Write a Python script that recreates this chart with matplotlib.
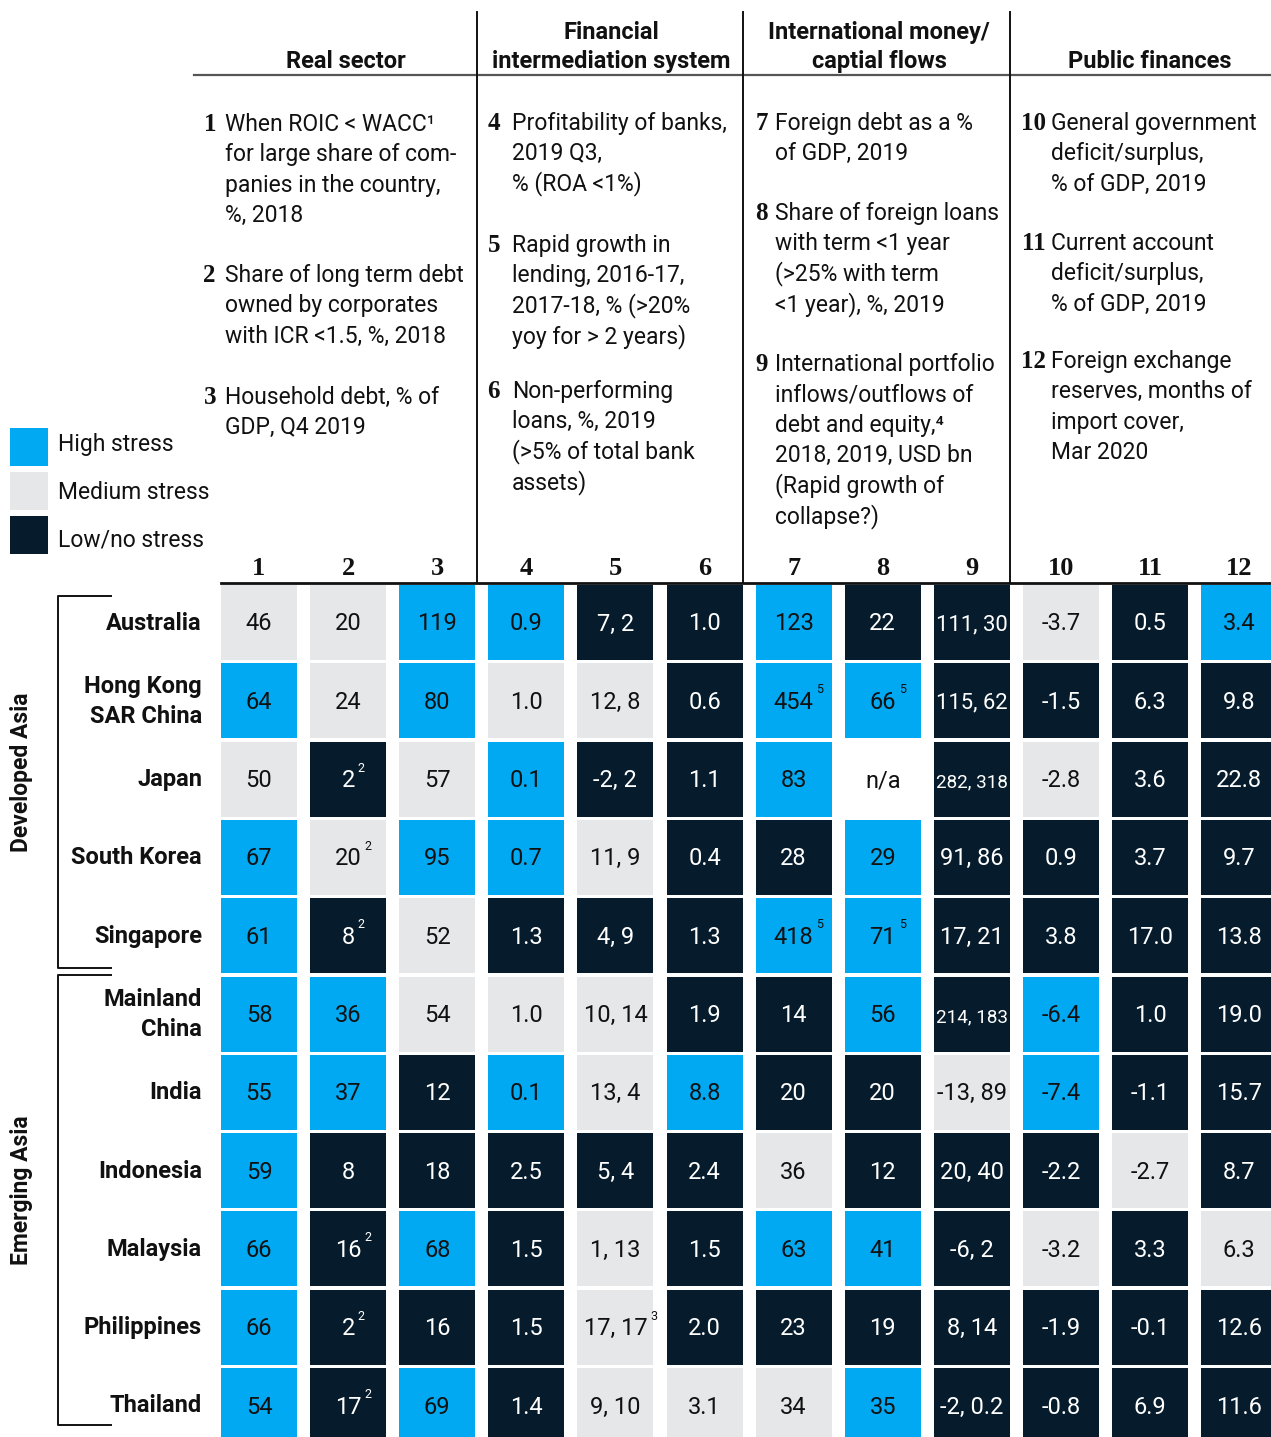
import matplotlib
matplotlib.use("Agg")
import matplotlib.pyplot as plt
from matplotlib.patches import Rectangle

# данные таблицы
countries = ["Australia", "Hong Kong\nSAR China", "Japan", "South Korea", "Singapore",
             "Mainland\nChina", "India", "Indonesia", "Malaysia", "Philippines", "Thailand"]
groups = ["Developed Asia", "Emerging Asia"]

values = [
    ["46", "20", "119", "0.9", "7, 2", "1.0", "123", "22", "111, 30", "-3.7", "0.5", "3.4"],
    ["64", "24", "80", "1.0", "12, 8", "0.6", "454", "66", "115, 62", "-1.5", "6.3", "9.8"],
    ["50", "2", "57", "0.1", "-2, 2", "1.1", "83", "n/a", "282, 318", "-2.8", "3.6", "22.8"],
    ["67", "20", "95", "0.7", "11, 9", "0.4", "28", "29", "91, 86", "0.9", "3.7", "9.7"],
    ["61", "8", "52", "1.3", "4, 9", "1.3", "418", "71", "17, 21", "3.8", "17.0", "13.8"],
    ["58", "36", "54", "1.0", "10, 14", "1.9", "14", "56", "214, 183", "-6.4", "1.0", "19.0"],
    ["55", "37", "12", "0.1", "13, 4", "8.8", "20", "20", "-13, 89", "-7.4", "-1.1", "15.7"],
    ["59", "8", "18", "2.5", "5, 4", "2.4", "36", "12", "20, 40", "-2.2", "-2.7", "8.7"],
    ["66", "16", "68", "1.5", "1, 13", "1.5", "63", "41", "-6, 2", "-3.2", "3.3", "6.3"],
    ["66", "2", "16", "1.5", "17, 17", "2.0", "23", "19", "8, 14", "-1.9", "-0.1", "12.6"],
    ["54", "17", "69", "1.4", "9, 10", "3.1", "34", "35", "-2, 0.2", "-0.8", "6.9", "11.6"],
]

# H - high, M - medium, L - low/no stress, N - нет данных
stress = [
    "MMHHLLHLLMLH",
    "HMHMMLHHLLLL",
    "MLMHLLHNLMLL",
    "HMHHMLLHLLLL",
    "HLMLLLHHLLLL",
    "HHMMMLLHLHLL",
    "HHLHMHLLMHLL",
    "HLLLLLMLLLML",
    "HLHLMLHHLMLM",
    "HLLLMLLLLLLL",
    "HLHLMMMHLLLL",
]

# сноски (строка, столбец) -> номер
notes = {(1, 6): "5", (1, 7): "5", (4, 6): "5", (4, 7): "5",
         (2, 1): "2", (3, 1): "2", (4, 1): "2", (8, 1): "2", (9, 1): "2", (10, 1): "2",
         (9, 4): "3"}

sections = [["Real sector"],
            ["Financial", "intermediation system"],
            ["International money/", "captial flows"],
            ["Public finances"]]

indicators = {
    1: ["When ROIC < WACC\u00b9", "for large share of com-", "panies in the country,", "%, 2018"],
    2: ["Share of long term debt", "owned by corporates", "with ICR <1.5, %, 2018"],
    3: ["Household debt, % of", "GDP, Q4 2019"],
    4: ["Profitability of banks,", "2019 Q3,", "% (ROA <1%)"],
    5: ["Rapid growth in", "lending, 2016-17,", "2017-18, % (>20%", "yoy for > 2 years)"],
    6: ["Non-performing", "loans, %, 2019", "(>5% of total bank", "assets)"],
    7: ["Foreign debt as a %", "of GDP, 2019"],
    8: ["Share of foreign loans", "with term <1 year", "(>25% with term", "<1 year), %, 2019"],
    9: ["International portfolio", "inflows/outflows of", "debt and equity,\u2074",
        "2018, 2019, USD bn", "(Rapid growth of", "collapse?)"],
    10: ["General government", "deficit/surplus,", "% of GDP, 2019"],
    11: ["Current account", "deficit/surplus,", "% of GDP, 2019"],
    12: ["Foreign exchange", "reserves, months of", "import cover,", "Mar 2020"],
}

legend_items = [("H", "High stress"), ("M", "Medium stress"), ("L", "Low/no stress")]

colors = {"H": "#00A9F2", "M": "#E6E7E9", "L": "#061C2C", "N": "white"}
dark_text = "#111111"

# разметка в пикселях
W, H = 1271, 1437
X0, DX, CW = 221, 89.1, 76
Y0, DY, CH = 585, 78.3, 75
dividers = [477, 743, 1010]
section_x = [346, 611, 879, 1150]
block_num_x = [216, 500, 768, 1046]
block_text_x = [225, 512, 775, 1051]
ind_baseline = {1: 131, 2: 282, 3: 404, 4: 130, 5: 252, 6: 398,
                7: 130, 8: 220, 9: 371, 10: 130, 11: 250, 12: 368}
LINE = 30.4
bracket_spans = [(596, 968), (975, 1425)]

SANS = ["Roboto", "DejaVu Sans"]
SERIF = ["Liberation Serif", "DejaVu Serif"]

fig = plt.figure(figsize=(W / 100, H / 100), dpi=100)
ax = fig.add_axes([0, 0, 1, 1])
ax.set_xlim(0, W)
ax.set_ylim(H, 0)
ax.axis("off")

# заголовки разделов
for k, lines in enumerate(sections):
    n = len(lines)
    for j, line in enumerate(lines):
        ax.text(section_x[k], 68 - (n - 1 - j) * 29, line, ha="center", va="baseline",
                fontsize=17, fontweight="bold", family=SANS, color="#111")

ax.plot([194, W], [75, 75], color="#555", lw=1.6)
for x in dividers:
    ax.plot([x, x], [12, 583], color="#111", lw=1.4)
ax.plot([X0, W], [583, 583], color="#111", lw=2)

# описания показателей
for num, lines in indicators.items():
    b = (num - 1) // 3
    y = ind_baseline[num]
    ax.text(block_num_x[b], y, str(num), ha="right", va="baseline", fontsize=18,
            fontweight="bold", family=SERIF, color="#111")
    for j, line in enumerate(lines):
        ax.text(block_text_x[b], y + j * LINE, line, ha="left", va="baseline",
                fontsize=16.5, family=SANS, color="#111")

# легенда
for j, (code, label) in enumerate(legend_items):
    top = 428 + j * 44
    ax.add_patch(Rectangle((10, top), 38, 38, color=colors[code], lw=0))
    ax.text(58, 451 + j * 48, label, ha="left", va="baseline", fontsize=16.5,
            family=SANS, color="#111")

# номера столбцов
for c in range(12):
    ax.text(X0 + c * DX + CW / 2, 575, str(c + 1), ha="center", va="baseline",
            fontsize=19, fontweight="bold", family=SERIF, color="#111")

# ячейки
fig.canvas.draw()
renderer = fig.canvas.get_renderer()
inv = ax.transData.inverted()
for r, row in enumerate(values):
    cy = Y0 + r * DY + CH / 2
    for c, val in enumerate(row):
        code = stress[r][c]
        x = X0 + c * DX
        ax.add_patch(Rectangle((x, Y0 + r * DY), CW, CH, color=colors[code], lw=0))
        tc = "white" if code == "L" else dark_text
        t = ax.text(x + CW / 2, cy + 8, val, ha="center", va="baseline", fontsize=17,
                    family=SANS, color=tc)
        bb = t.get_window_extent(renderer)
        if bb.width > 72:
            t.set_fontsize(17 * 72 / bb.width)
            bb = t.get_window_extent(renderer)
        if (r, c) in notes:
            x1 = inv.transform((bb.x1, bb.y1))[0]
            ax.text(x1 + 3, cy - 11, notes[(r, c)], ha="left", va="center", fontsize=9,
                    family=SANS, color=tc)

# названия стран
for r, name in enumerate(countries):
    cy = Y0 + r * DY + CH / 2
    lines = name.split("\n")
    for j, line in enumerate(lines):
        ax.text(202, cy + 7 + (j - (len(lines) - 1) / 2) * 30, line, ha="right",
                va="baseline", fontsize=17, fontweight="bold", family=SANS, color="#111")

# скобки групп
for g, (top, bot) in enumerate(bracket_spans):
    ax.plot([111, 58, 58, 111], [top, top, bot, bot], color="#111", lw=1.4)
    ax.text(22, (top + bot) / 2 - 10, groups[g], rotation=90, ha="center", va="center",
            fontsize=16.5, fontweight="bold", family=SANS, color="#111")

fig.savefig("out.png", dpi=100)
